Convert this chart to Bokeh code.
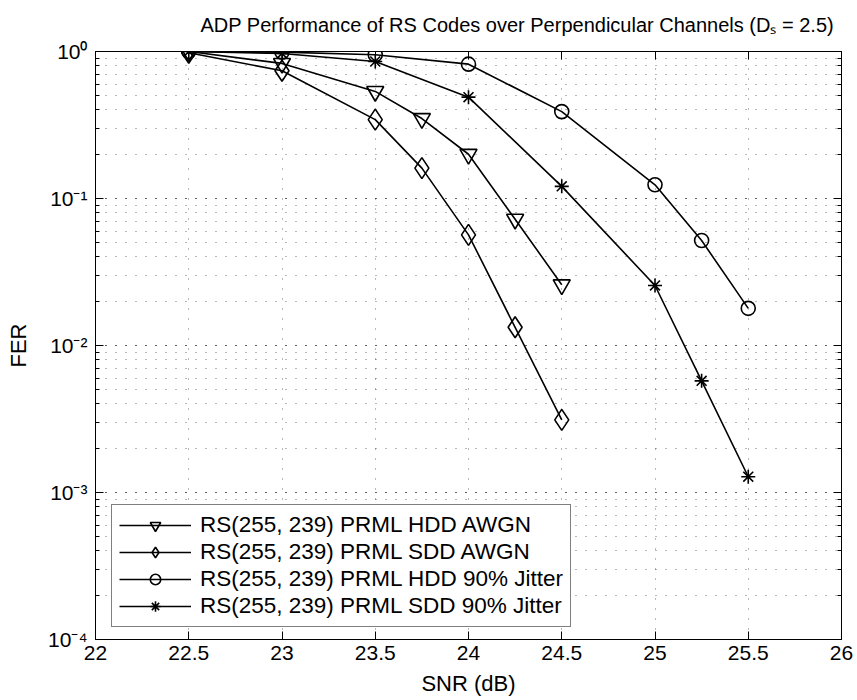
from bokeh.plotting import figure
from bokeh.models import (LinearAxis, LogAxis, SingleIntervalTicker, LogTicker,
                          CustomJSTickFormatter, Legend, LegendItem, Title)
from bokeh.embed import file_html
from bokeh.resources import INLINE

# ---------------- data ----------------
snr_hdd_awgn = [22.5, 23.0, 23.5, 23.75, 24.0, 24.25, 24.5]
fer_hdd_awgn = [1.0, 0.83, 0.535, 0.35, 0.20, 0.0723, 0.0259]

snr_sdd_awgn = [22.5, 23.0, 23.5, 23.75, 24.0, 24.25, 24.5]
fer_sdd_awgn = [0.98, 0.74, 0.344, 0.161, 0.0566, 0.0133, 0.00312]

snr_hdd_jit = [22.5, 23.0, 23.5, 24.0, 24.5, 25.0, 25.25, 25.5]
fer_hdd_jit = [1.0, 0.99, 0.95, 0.82, 0.39, 0.124, 0.0518, 0.0179]

snr_sdd_jit = [22.5, 23.0, 23.5, 24.0, 24.5, 25.0, 25.25, 25.5]
fer_sdd_jit = [1.0, 0.97, 0.855, 0.489, 0.121, 0.0256, 0.00575, 0.00128]

labels = ["RS(255, 239) PRML HDD AWGN",
          "RS(255, 239) PRML SDD AWGN",
          "RS(255, 239) PRML HDD 90% Jitter",
          "RS(255, 239) PRML SDD 90% Jitter"]

title_text = "ADP Performance of RS Codes over Perpendicular Channels (D\u209b = 2.5)"

FONT = "Liberation Sans"

p = figure(frame_width=746, frame_height=588, title=None,
           min_border_left=95, min_border_right=16,
           min_border_top=50, min_border_bottom=62,
           x_range=(22, 26), y_range=(1e-4, 1), y_axis_type="log",
           output_backend="svg", toolbar_location=None,
           background_fill_color="white", border_fill_color="white")
p.outline_line_color = "black"
p.outline_line_width = 1

xticker = SingleIntervalTicker(interval=0.5, num_minor_ticks=0)
xfmt = CustomJSTickFormatter(code="return String(Math.round(tick*10)/10);")
yfmt = CustomJSTickFormatter(code="""
const e = Math.round(Math.log10(tick));
const sup = {'0':'\u2070','1':'\u00b9','2':'\u00b2','3':'\u00b3','4':'\u2074','5':'\u2075',
             '6':'\u2076','7':'\u2077','8':'\u2078','9':'\u2079','-':'\u207b'};
return '10' + String(e).split('').map(c => sup[c]).join('');
""")
blank = CustomJSTickFormatter(code="return '';")

for ax in p.xaxis:
    ax.ticker = xticker
    ax.formatter = xfmt
for ax in p.yaxis:
    ax.ticker = LogTicker(num_minor_ticks=10)
    ax.formatter = yfmt

def style_axis(ax):
    ax.axis_line_color = "black"
    ax.axis_line_width = 1
    ax.major_tick_in = 8
    ax.major_tick_out = 0
    ax.minor_tick_in = 4
    ax.minor_tick_out = 0
    ax.major_tick_line_color = "black"
    ax.minor_tick_line_color = "black"
    ax.major_label_text_font = FONT
    ax.major_label_text_font_size = "21px"
    ax.major_label_text_color = "black"
    ax.axis_label_text_font = FONT
    ax.axis_label_text_font_size = "22px"
    ax.axis_label_text_font_style = "normal"
    ax.axis_label_text_color = "black"

p.xaxis.axis_label = "SNR (dB)"
p.yaxis.axis_label = "FER"
for ax in p.xaxis + p.yaxis:
    style_axis(ax)
p.xaxis.major_label_standoff = 6
p.xaxis.axis_label_standoff = 8
p.yaxis.major_label_standoff = 8
p.yaxis.axis_label_standoff = 14

top = LinearAxis(ticker=SingleIntervalTicker(interval=0.5, num_minor_ticks=0), formatter=blank)
right = LogAxis(ticker=LogTicker(num_minor_ticks=10), formatter=blank)
for ax in (top, right):
    style_axis(ax)
    ax.major_label_standoff = 0
    ax.major_label_text_font_size = "1px"
p.add_layout(top, "above")
p.add_layout(right, "right")

title = Title(text=title_text, align="left", offset=105, vertical_align="top",
              text_font=FONT, text_font_size="20px", text_font_style="normal",
              text_color="black", standoff=27)
p.add_layout(title, "above")

# grid
for g in (p.xgrid, p.ygrid):
    g.grid_line_color = "black"
    g.grid_line_alpha = 0.55
    g.grid_line_dash = "1 9"
    g.grid_line_width = 1
p.xgrid.ticker = xticker
p.ygrid.minor_grid_line_color = "black"
p.ygrid.minor_grid_line_alpha = 0.55
p.ygrid.minor_grid_line_dash = "1 9"

series = [
    (snr_hdd_awgn, fer_hdd_awgn, "inverted_triangle", 17),
    (snr_sdd_awgn, fer_sdd_awgn, "diamond", 21),
    (snr_hdd_jit, fer_hdd_jit, "circle", 14),
    (snr_sdd_jit, fer_sdd_jit, "asterisk", 14),
]
items = []
for (xs, ys, mk, sz), lab in zip(series, labels):
    lr = p.line(xs, ys, line_color="black", line_width=1.6)
    sr = p.scatter(xs, ys, marker=mk, size=sz, line_color="black",
                   line_width=1.6, fill_alpha=0)
    items.append(LegendItem(label=lab, renderers=[lr, sr]))

legend = Legend(items=items, location=(16, 12), margin=0,
                border_line_color="black", border_line_width=1,
                background_fill_color="white", background_fill_alpha=1,
                label_text_font=FONT, label_text_font_size="22.5px",
                label_text_color="black",
                glyph_width=72, glyph_height=26, label_standoff=9,
                label_height=26, spacing=1, padding=7)
p.add_layout(legend, "center")

with open("out.html", "w", encoding="utf-8") as f:
    f.write(file_html(p, INLINE))
